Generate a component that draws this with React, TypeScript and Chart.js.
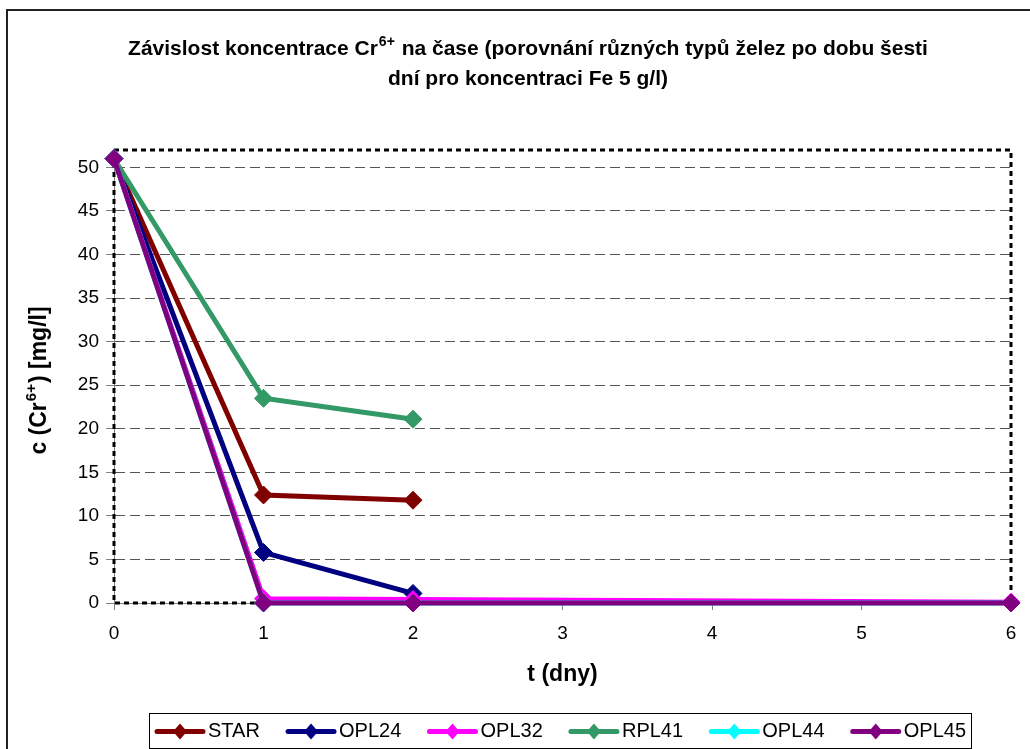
import React, { useEffect, useRef } from "react";
import { Chart, registerables } from "chart.js";

Chart.register(...registerables);

// ---- data ----
const seriesNames = ["STAR", "OPL24", "OPL32", "RPL41", "OPL44", "OPL45"];
const seriesColors = ["#800000", "#000080", "#FF00FF", "#339966", "#00FFFF", "#800080"];
const daysShort = [0, 1, 2];
const daysLong = [0, 1, 2, 6];
const starValues = [51, 12.4, 11.8];
const opl24Values = [51, 5.8, 1.1];
const opl32Values = [51, 0.5, 0.4, 0.1];
const rpl41Values = [51, 23.5, 21.1];
const opl44Values = [51, 0, 0, 0];
const opl45Values = [51, 0, 0, 0];
const yTickValues = [0, 5, 10, 15, 20, 25, 30, 35, 40, 45, 50];
const xTickValues = [0, 1, 2, 3, 4, 5, 6];

const titleLine1 = [
  { t: "Závislost koncentrace Cr", sup: false },
  { t: "6+", sup: true },
  { t: " na čase (porovnání různých typů želez po dobu šesti", sup: false },
];
const titleLine2 = [{ t: "dní pro koncentraci Fe 5 g/l)", sup: false }];
const yTitle = [
  { t: "c (Cr", sup: false },
  { t: "6+", sup: true },
  { t: ") [mg/l]", sup: false },
];
const xTitle = "t (dny)";

const FAMILY = '"Liberation Sans", Arial, sans-serif';

function toPoints(xs: number[], ys: number[]) {
  return ys.map((y, i) => ({ x: xs[i], y }));
}

const seriesData = [
  toPoints(daysShort, starValues),
  toPoints(daysShort, opl24Values),
  toPoints(daysLong, opl32Values),
  toPoints(daysShort, rpl41Values),
  toPoints(daysLong, opl44Values),
  toPoints(daysLong, opl45Values),
];

function drawRich(
  ctx: CanvasRenderingContext2D,
  segs: { t: string; sup: boolean }[],
  cx: number,
  baseY: number,
  size: number,
  supSize: number,
  rise: number,
  supPad: number
) {
  const main = `bold ${size}px ${FAMILY}`;
  const sup = `bold ${supSize}px ${FAMILY}`;
  let total = 0;
  const widths = segs.map((s) => {
    ctx.font = s.sup ? sup : main;
    const w = ctx.measureText(s.t).width + (s.sup ? 2 * supPad : 0);
    total += w;
    return w;
  });
  let x = cx - total / 2;
  ctx.textAlign = "left";
  ctx.textBaseline = "alphabetic";
  segs.forEach((s, i) => {
    ctx.font = s.sup ? sup : main;
    ctx.fillText(s.t, s.sup ? x + supPad : x, s.sup ? baseY - rise : baseY);
    x += widths[i];
  });
}

const decorPlugin = {
  id: "decor",
  beforeDatasetsDraw(chart: any) {
    const { ctx, chartArea } = chart;
    ctx.save();
    ctx.strokeStyle = "#000";
    ctx.lineWidth = 3;
    ctx.setLineDash([5, 4]);
    ctx.strokeRect(chartArea.left, chartArea.top, chartArea.right - chartArea.left, chartArea.bottom - chartArea.top);
    ctx.restore();
  },
  afterDraw(chart: any) {
    const { ctx, chartArea } = chart;
    ctx.save();
    // outer chart border
    ctx.strokeStyle = "#222";
    ctx.lineWidth = 2;
    ctx.beginPath();
    ctx.moveTo(7, chart.height + 2);
    ctx.lineTo(7, 10);
    ctx.lineTo(chart.width + 2, 10);
    ctx.stroke();

    ctx.fillStyle = "#000";
    // title
    drawRich(ctx, titleLine1, 528, 55, 21, 14, 9, 1);
    drawRich(ctx, titleLine2, 528, 85, 21, 14, 9, 1);
    // x title
    ctx.font = `bold 23px ${FAMILY}`;
    ctx.textAlign = "center";
    ctx.textBaseline = "alphabetic";
    ctx.fillText(xTitle, (chartArea.left + chartArea.right) / 2, 681);
    // y title
    ctx.save();
    ctx.translate(46, (chartArea.top + chartArea.bottom) / 2 + 4);
    ctx.rotate(-Math.PI / 2);
    drawRich(ctx, yTitle, 0, 0, 23, 15, 10, 1);
    ctx.restore();

    // legend
    const boxL = 149, boxR = 971, boxT = 713, boxB = 748;
    ctx.strokeStyle = "#000";
    ctx.lineWidth = 1;
    ctx.setLineDash([]);
    ctx.strokeRect(boxL + 0.5, boxT + 0.5, boxR - boxL, boxB - boxT);
    ctx.font = `20px ${FAMILY}`;
    const lineW = 52;
    const gapText = 2;
    const pad = 5;
    const textWs = seriesNames.map((n) => ctx.measureText(n).width);
    const itemWs = textWs.map((w) => lineW + gapText + w);
    const totalW = itemWs.reduce((a, b) => a + b, 0);
    const gap = (boxR - boxL - 2 * pad - totalW) / (seriesNames.length - 1);
    let x = boxL + pad;
    const cy = (boxT + boxB) / 2 + 1;
    seriesNames.forEach((name, i) => {
      const col = seriesColors[i];
      ctx.strokeStyle = col;
      ctx.lineWidth = 5;
      ctx.lineCap = "round";
      ctx.beginPath();
      ctx.moveTo(x + 3, cy);
      ctx.lineTo(x + lineW - 3, cy);
      ctx.stroke();
      const mx = x + lineW / 2;
      ctx.fillStyle = col;
      ctx.beginPath();
      ctx.moveTo(mx, cy - 8);
      ctx.lineTo(mx + 7, cy);
      ctx.lineTo(mx, cy + 8);
      ctx.lineTo(mx - 7, cy);
      ctx.closePath();
      ctx.fill();
      ctx.fillStyle = "#000";
      ctx.textAlign = "left";
      ctx.textBaseline = "middle";
      ctx.fillText(name, x + lineW + gapText, cy);
      x += itemWs[i] + gap;
    });
    ctx.restore();
  },
};

export default function App() {
  const ref = useRef<HTMLCanvasElement | null>(null);
  useEffect(() => {
    document.body.style.margin = "0";
    const canvas = ref.current;
    if (!canvas) return;
    const order = [5, 4, 3, 2, 1, 0];
    const chart = new Chart(canvas, {
      type: "line",
      data: {
        datasets: seriesNames.map((name, i) => ({
          label: name,
          data: seriesData[i],
          borderColor: seriesColors[i],
          backgroundColor: seriesColors[i],
          borderWidth: 5,
          pointStyle: "rectRot",
          pointRadius: 9,
          pointBorderWidth: 1,
          pointBorderColor: seriesColors[i],
          pointBackgroundColor: seriesColors[i],
          tension: 0,
          fill: false,
          clip: false,
          order: order[i],
        })),
      },
      plugins: [decorPlugin],
      options: {
        animation: false,
        responsive: false,
        devicePixelRatio: 1,
        layout: { padding: { top: 150, right: 19, left: 0, bottom: 0 } },
        plugins: {
          legend: { display: false },
          title: { display: false },
          tooltip: { enabled: false },
        },
        scales: {
          x: {
            type: "linear",
            min: 0,
            max: 6,
            afterBuildTicks: (scale: any) => {
              scale.ticks = xTickValues.map((v) => ({ value: v }));
            },
            afterFit: (scale: any) => {
              scale.height = 146;
            },
            ticks: {
              font: { family: FAMILY, size: 19 },
              color: "#000",
              padding: 12,
              maxRotation: 0,
              autoSkip: false,
            },
            grid: {
              drawOnChartArea: false,
              drawTicks: true,
              tickLength: 7,
              tickColor: "#808080",
              tickWidth: 1,
            },
            border: { color: "#808080", width: 1 },
          },
          y: {
            min: 0,
            max: 52,
            afterBuildTicks: (scale: any) => {
              scale.ticks = yTickValues.map((v) => ({ value: v }));
            },
            afterFit: (scale: any) => {
              scale.width = 114;
            },
            ticks: {
              font: { family: FAMILY, size: 19 },
              color: "#000",
              padding: 7,
              autoSkip: false,
            },
            grid: {
              color: "#555",
              lineWidth: 1,
              tickLength: 8,
              tickColor: "#808080",
              tickWidth: 1,
              tickBorderDash: [],
            },
            border: { color: "#808080", width: 1, dash: [10, 5] },
          },
        },
      },
    } as any);
    return () => chart.destroy();
  }, []);
  return (
    <div style={{ position: "absolute", left: 0, top: 0, width: 1030, height: 749, background: "#fff" }}>
      <canvas ref={ref} width={1030} height={749} style={{ display: "block", width: 1030, height: 749 }} />
    </div>
  );
}
